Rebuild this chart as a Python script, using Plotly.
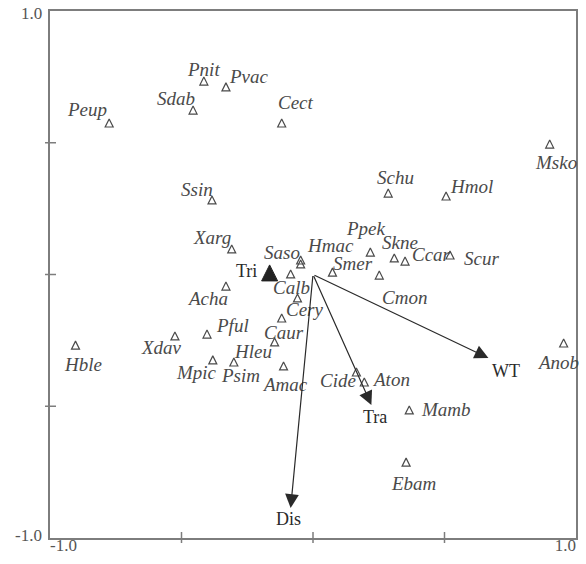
import plotly.graph_objects as go

# Species scores on the first two ordination axes
species = ["Peup", "Pnit", "Pvac", "Sdab", "Cect", "Msko", "Schu", "Hmol", "Ssin",
           "Xarg", "Saso", "Hmac", "Calb", "Acha", "Cery", "Caur", "Hleu", "Pful",
           "Mpic", "Psim", "Amac", "Xdav", "Hble", "Smer", "Ppek", "Skne", "Ccar",
           "Scur", "Cmon", "Anob", "Cide", "Aton", "Mamb", "Ebam"]
sp_axis1 = [-0.775, -0.415, -0.331, -0.456, -0.119, 0.900, 0.286, 0.506, -0.384,
            -0.309, -0.047, -0.047, -0.085, -0.331, -0.059, -0.119, -0.146, -0.403,
            -0.381, -0.301, -0.112, -0.525, -0.903, 0.074, 0.218, 0.309, 0.350,
            0.521, 0.252, 0.953, 0.165, 0.195, 0.366, 0.354]
sp_axis2 = [0.575, 0.734, 0.712, 0.624, 0.575, 0.495, 0.309, 0.298, 0.283,
            0.097, 0.040, 0.055, 0.002, -0.044, -0.089, -0.165, -0.256, -0.226,
            -0.324, -0.332, -0.347, -0.233, -0.268, 0.009, 0.085, 0.063, 0.051,
            0.074, -0.002, -0.260, -0.370, -0.408, -0.514, -0.712]

# Quantitative environmental variables (biplot arrows)
env_names = ["WT", "Tra", "Dis"]
env_axis1 = [0.667, 0.222, -0.085]
env_axis2 = [-0.317, -0.495, -0.886]

# Nominal variable centroid
nom_names = ["Tri"]
nom_axis1 = [-0.165]
nom_axis2 = [0.006]

axis_ticks = [-1.0, -0.5, 0.0, 0.5, 1.0]

# label placement around each symbol (px: right, down)
sp_offset = {
    "Peup": (-22, -13), "Pnit": (0, -12), "Pvac": (23, -10), "Sdab": (-17, -12),
    "Cect": (14, -20), "Msko": (6, 18), "Schu": (7, -16), "Hmol": (25, -9),
    "Ssin": (-15, -10), "Xarg": (-20, -11), "Saso": (-19, -11), "Hmac": (30, -15),
    "Calb": (1, 14), "Acha": (-18, 12), "Cery": (8, 12), "Caur": (2, 15),
    "Hleu": (-22, 10), "Pful": (25, -9), "Mpic": (-16, 13), "Psim": (7, 14),
    "Amac": (1, 19), "Xdav": (-13, 12), "Hble": (7, 19), "Smer": (21, -9),
    "Ppek": (-4, -24), "Skne": (6, -15), "Ccar": (26, -7), "Scur": (31, 3),
    "Cmon": (25, 22), "Anob": (-6, 19), "Cide": (-18, 8), "Aton": (27, -3),
    "Mamb": (37, 0), "Ebam": (7, 21),
}
env_offset = {"WT": (18, 12), "Tra": (4, 11), "Dis": (-2, 10), "Tri": (-23, -2)}

SERIF = "Liberation Serif, Times New Roman, serif"
AXIS_COL = "#7d7d7d"
SP_COL = "#4a4a4a"
ENV_COL = "#2a2a2a"
LAB_COL = "#555555"

fig = go.Figure()

# open triangles for species (arrow glyph shifted so it is centred on the point)
sym = 8
fig.add_trace(go.Scatter(
    x=sp_axis1, y=sp_axis2, mode="markers", cliponaxis=False,
    marker=dict(symbol="arrow-down-open", angle=180, standoff=sym / 2, size=sym,
                line=dict(color=SP_COL, width=1.2), color=SP_COL),
    hovertext=species, showlegend=False,
))

# filled triangle for the nominal variable
big = 16
fig.add_trace(go.Scatter(
    x=nom_axis1, y=nom_axis2, mode="markers",
    marker=dict(symbol="arrow-down", angle=180, standoff=big / 2, size=big,
                color="#222222", line=dict(color="#222222", width=1)),
    hovertext=nom_names, showlegend=False,
))

lo, hi = axis_ticks[0], axis_ticks[-1]

# end labels of the horizontal axis, hung below its two corners
fig.add_trace(go.Scatter(
    x=[lo, hi], y=[lo, lo], mode="text", cliponaxis=False,
    text=[f"{lo:.1f}", f"{hi:.1f}"], textposition=["bottom right", "bottom left"],
    textfont=dict(family=SERIF, size=17, color=LAB_COL),
    hoverinfo="skip", showlegend=False,
))

annotations = []
for name, x, y in zip(species, sp_axis1, sp_axis2):
    dx, dy = sp_offset[name]
    annotations.append(dict(
        x=x, y=y, xref="x", yref="y", text=f"<i>{name}</i>", showarrow=False,
        xshift=dx, yshift=-dy, font=dict(family=SERIF, size=19, color=SP_COL)))

for name, x, y in zip(env_names, env_axis1, env_axis2):
    annotations.append(dict(
        x=x, y=y, ax=0, ay=0, xref="x", yref="y", axref="x", ayref="y",
        text="", showarrow=True, arrowhead=2, arrowsize=2.3, arrowwidth=1.2,
        arrowcolor=ENV_COL))
    dx, dy = env_offset[name]
    annotations.append(dict(
        x=x, y=y, xref="x", yref="y", text=name, showarrow=False,
        xshift=dx, yshift=-dy - 1, yanchor="middle",
        font=dict(family=SERIF, size=18, color=ENV_COL)))

for name, x, y in zip(nom_names, nom_axis1, nom_axis2):
    dx, dy = env_offset[name]
    annotations.append(dict(
        x=x, y=y, xref="x", yref="y", text=name, showarrow=False,
        xshift=dx, yshift=-dy, font=dict(family=SERIF, size=18, color=ENV_COL)))

# end labels of the vertical axis
lab_font = dict(family=SERIF, size=17, color=LAB_COL)
annotations += [
    dict(x=0, y=1, xref="paper", yref="paper", text=f"{hi:.1f}", showarrow=False,
         xanchor="right", yanchor="middle", xshift=-6, yshift=-2, font=lab_font),
    dict(x=0, y=0, xref="paper", yref="paper", text=f"{lo:.1f}", showarrow=False,
         xanchor="right", yanchor="middle", xshift=-6, yshift=3, font=lab_font),
]

# small tick marks crossing the left and bottom axes
shapes = []
for t in axis_ticks[1:-1]:
    shapes.append(dict(type="line", xref="paper", yref="y", xsizemode="pixel",
                       xanchor=0, x0=-5, x1=6, y0=t, y1=t,
                       line=dict(color=AXIS_COL, width=1.5)))
    shapes.append(dict(type="line", xref="x", yref="paper", ysizemode="pixel",
                       yanchor=0, y0=-5, y1=6, x0=t, x1=t,
                       line=dict(color=AXIS_COL, width=1.5)))

axis_style = dict(range=[lo, hi], showgrid=False, zeroline=False, showticklabels=False,
                  ticks="", showline=True, linecolor=AXIS_COL, linewidth=1.6,
                  mirror=True, fixedrange=True)

fig.update_layout(
    width=586, height=564,
    margin=dict(l=50, r=8, t=11, b=26),
    paper_bgcolor="white", plot_bgcolor="white",
    xaxis=axis_style, yaxis=axis_style,
    annotations=annotations, shapes=shapes,
    showlegend=False,
)

fig.write_html("out.html")
